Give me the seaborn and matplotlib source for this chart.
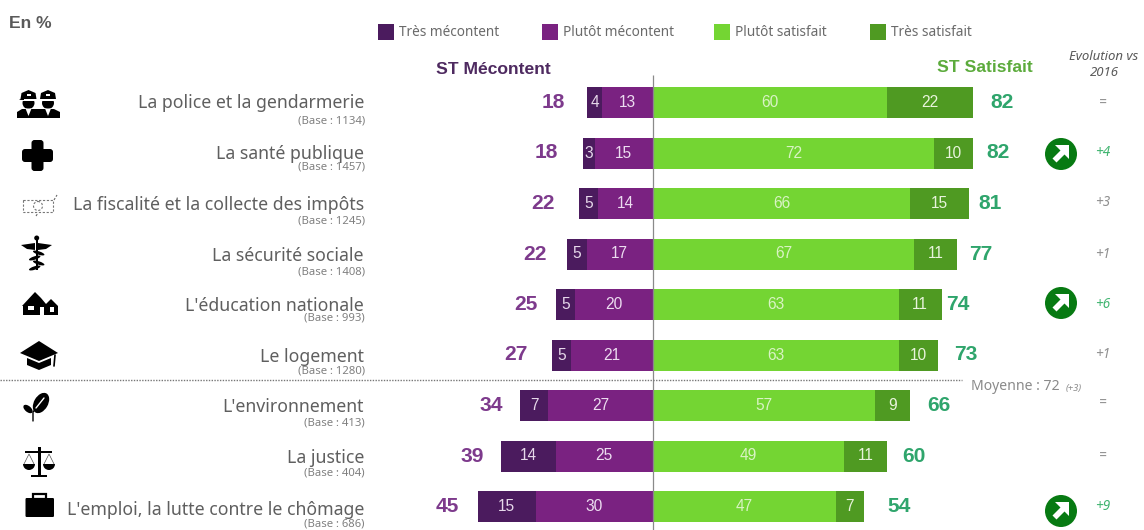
import numpy as np
import pandas as pd
import matplotlib
matplotlib.use("Agg")
import matplotlib.pyplot as plt
from matplotlib.patches import Circle, Rectangle, Polygon, FancyBboxPatch, Ellipse, Wedge
import seaborn as sns

# Survey results, in percent
domaines = ["La police et la gendarmerie", "La santé publique",
            "La fiscalité et la collecte des impôts", "La sécurité sociale",
            "L'éducation nationale", "Le logement", "L'environnement",
            "La justice", "L'emploi, la lutte contre le chômage"]
bases = [1134, 1457, 1245, 1408, 993, 1280, 413, 404, 686]
tres_mecontent = [4, 3, 5, 5, 5, 5, 7, 14, 15]
plutot_mecontent = [13, 15, 14, 17, 20, 21, 27, 25, 30]
plutot_satisfait = [60, 72, 66, 67, 63, 63, 57, 49, 47]
tres_satisfait = [22, 10, 15, 11, 11, 10, 9, 11, 7]
st_mecontent = [18, 18, 22, 22, 25, 27, 34, 39, 45]
st_satisfait = [82, 82, 81, 77, 74, 73, 66, 60, 54]
evolution = ["=", "+4", "+3", "+1", "+6", "+1", "=", "=", "+9"]
hausse_notable = [False, True, False, False, True, False, False, False, True]

# Colours
C_TM, C_PM, C_PS, C_TS = "#4b1b5e", "#7a2281", "#74d533", "#4f9a22"
C_TOTAL_M, C_TOTAL_S = "#7d3a8c", "#2fa56c"
GREY = "#6a6a6a"

# Layout, in pixels of the 1144x530 canvas
W, H = 1144, 530
ZERO_X, PX_PER_PCT = 653, 3.9
ROW0_Y, ROW_STEP, BAR_PX = 102.5, 50.5, 31
LABEL_Y = [103, 154, 205, 256, 306, 357, 407, 458, 510]
BASE_Y = [121, 167, 221, 272, 318, 371, 423, 473, 524]
EVOL_Y = [103, 153, 203, 255, 305, 354, 403, 456, 507]
GAP_L = [33, 36, 36, 32, 30, 36, 29, 29, 30]
GAP_R = [29, 25, 21, 24, 16, 28, 28, 27, 36]

sns.set_theme(style="white")
plt.rcParams["font.family"] = ["Noto Sans", "DejaVu Sans"]
NUM_FONT = ["Liberation Sans", "DejaVu Sans"]
PT = 72 / 100  # pixels to points at 100 dpi

df = pd.DataFrame({"domaine": domaines, "tm": tres_mecontent, "pm": plutot_mecontent,
                   "ps": plutot_satisfait, "ts": tres_satisfait})
df["neg_total"] = -(df.tm + df.pm)
df["neg_pm"] = -df.pm
df["pos_total"] = df.ps + df.ts

fig = plt.figure(figsize=(W / 100, H / 100), dpi=100, facecolor="white")
ax = fig.add_axes([0, 0, 1, 1])

# Stacked look: longest bars first, inner segment drawn on top
for col, colour in [("neg_total", C_TM), ("neg_pm", C_PM), ("pos_total", C_TS), ("ps", C_PS)]:
    sns.barplot(data=df, x=col, y="domaine", order=domaines, orient="y", color=colour,
                saturation=1, width=BAR_PX / ROW_STEP, linewidth=0, ax=ax)

ax.set_xlim(-ZERO_X / PX_PER_PCT, (W - ZERO_X) / PX_PER_PCT)
ax.set_ylim((H - ROW0_Y) / ROW_STEP, -ROW0_Y / ROW_STEP)
ax.axis("off")

# Values inside and beside the bars
for i in range(len(domaines)):
    tm, pm, ps, ts = tres_mecontent[i], plutot_mecontent[i], plutot_satisfait[i], tres_satisfait[i]
    seg = dict(ha="center", va="center", fontsize=15.5 * PT, family=NUM_FONT)
    ax.text(-pm - tm / 2, i, str(tm), color="#e6d8ea", **seg)
    ax.text(-pm / 2, i, str(pm), color="#ecdcf0", **seg)
    ax.text(ps / 2, i, str(ps), color="#d9f3c4", **seg)
    ax.text(ps + ts / 2, i, str(ts), color="#e8f4dc", **seg)
    tot = dict(ha="center", va="center", fontsize=21 * PT, fontweight="bold", family=NUM_FONT)
    ax.text(-(tm + pm) - GAP_L[i] / PX_PER_PCT, i, str(st_mecontent[i]), color=C_TOTAL_M, **tot)
    ax.text(ps + ts + GAP_R[i] / PX_PER_PCT, i, str(st_satisfait[i]), color=C_TOTAL_S, **tot)

# Central axis, from just under the headers to the bottom edge
ax.vlines(0, (75 - ROW0_Y) / ROW_STEP, (H - ROW0_Y) / ROW_STEP, color="#8a8a8a", lw=0.9, zorder=5)

# Overlay in pixel coordinates for captions, pictograms and the legend
ov = fig.add_axes([0, 0, 1, 1], facecolor="none")
ov.set_xlim(0, W)
ov.set_ylim(H, 0)
ov.axis("off")


def add(p):
    ov.add_patch(p)


def poly(pts, color="black", **kw):
    add(Polygon(pts, closed=True, facecolor=color, edgecolor="none", **kw))


def rect(x, y, w, h, color="black"):
    add(Rectangle((x, y), w, h, facecolor=color, edgecolor="none"))


def disc(x, y, r, color="black"):
    add(Circle((x, y), r, facecolor=color, edgecolor="none"))


def icon_police():
    poly([(17, 118), (17, 112), (22, 109), (54, 109), (60, 112), (60, 118)])
    for cx in (28.5, 48):
        disc(cx, 103, 6)
        poly([(cx - 8, 99), (cx + 8, 99), (cx + 7, 93), (cx, 90), (cx - 7, 93)])
        rect(cx - 6, 99, 12, 1.6, "white")
        rect(cx - 2, 93.5, 4, 2.5, "white")
        poly([(cx - 3, 108.5), (cx + 3, 108.5), (cx, 116)], "white")
    poly([(19, 100), (24, 97), (24, 100)])


def icon_cross():
    add(FancyBboxPatch((31.5, 140), 12, 31, boxstyle="round,pad=0,rounding_size=3", fc="black", ec="none"))
    add(FancyBboxPatch((22, 149), 31, 13, boxstyle="round,pad=0,rounding_size=3", fc="black", ec="none"))


def icon_banknote():
    add(Rectangle((23, 200), 30, 12, fill=False, ec="#777777", lw=0.8, ls=(0, (2, 1.5))))
    add(Circle((38, 206), 4.5, fill=False, ec="#777777", lw=0.8, ls=(0, (2, 1.5))))
    ov.plot([54, 57], [200, 195], color="#666666", lw=0.8, ls=(0, (2, 1.5)))
    ov.plot([36, 38], [216, 213], color="#666666", lw=0.8, ls=(0, (2, 1.5)))


def icon_caduceus():
    rect(35.5, 238, 2.4, 32)
    disc(36.7, 238, 2.5)
    poly([(21, 245), (35, 243), (35, 250), (27, 249)])
    poly([(52, 245), (38, 243), (38, 250), (46, 249)])
    for y, s in [(253, 1), (258, -1), (263, 1), (268, -1)]:
        add(Ellipse((36.7 + s * 2, y), 12, 3.4, angle=s * 18, fc="black", ec="none"))


def icon_house():
    poly([(22, 306), (35, 292), (41, 298), (46, 304), (51, 299), (58, 306), (58, 315), (23, 315), (23, 306)])
    rect(28, 306, 6, 4, "white")
    rect(40, 307, 4, 8, "white")
    rect(50, 307, 4, 5, "white")


def icon_cap():
    poly([(20, 353), (39, 341), (58, 353), (39, 361)])
    poly([(27, 358), (39, 363), (51, 358), (51, 365), (39, 370), (27, 365)])
    ov.plot([55, 54], [355, 366], color="black", lw=1.2)


def icon_leaf():
    add(Ellipse((41, 403), 14, 22, angle=30, fc="black", ec="none"))
    add(Ellipse((28, 409), 6, 11, angle=-50, fc="black", ec="none"))
    ov.plot([33, 33, 44], [421, 412, 399], color="black", lw=1)
    ov.plot([36, 44], [408, 398], color="white", lw=1)


def icon_scale():
    rect(38, 447, 2.6, 29)
    rect(31, 475, 15.5, 2.4)
    rect(25, 451, 27, 1.8)
    for cx in (29, 49):
        add(Wedge((cx, 464), 6, 0, 180, fc="black", ec="none"))
        ov.plot([cx - 5, cx, cx + 5], [464, 454, 464], color="#555555", lw=0.5)


def icon_briefcase():
    add(FancyBboxPatch((25.5, 498), 28.5, 19, boxstyle="round,pad=0,rounding_size=1.2", fc="black", ec="none"))
    add(Rectangle((33, 494), 13, 5, fill=False, ec="black", lw=1.6))


def icon_trend(cx, cy):
    disc(cx, cy, 16, "#077a12")
    poly([(cx - 6, cy - 9), (cx + 8, cy - 9), (cx + 8, cy + 5), (cx + 3.5, cy + 0.5),
          (cx - 4.5, cy + 8.5), (cx - 8.5, cy + 4.5), (cx - 0.5, cy - 3.5)], "white")


for draw in (icon_police, icon_cross, icon_banknote, icon_caduceus, icon_house,
             icon_cap, icon_leaf, icon_scale, icon_briefcase):
    draw()

# Category captions
for i, name in enumerate(domaines):
    ov.text(364, LABEL_Y[i], name, ha="right", va="center", fontsize=17.7 * PT, color="#5f5f5f")
    ov.text(365, BASE_Y[i], f"(Base : {bases[i]})", ha="right", va="center", fontsize=11.3 * PT, color="#808080")

# Year-on-year change
for i, ev in enumerate(evolution):
    colour = "#3fb46f" if hausse_notable[i] else "#8f8f8f"
    ov.text(1103, EVOL_Y[i], ev, ha="center", va="center", fontsize=13.5 * PT, style="italic", color=colour)
for cy in (154, 303, 511):
    icon_trend(1061, cy)

# Legend
legend_items = [(378, "Très mécontent", C_TM), (542, "Plutôt mécontent", C_PM),
                (714, "Plutôt satisfait", C_PS), (870, "Très satisfait", C_TS)]
for x, lab, colour in legend_items:
    rect(x, 24, 16, 16, colour)
    ov.text(x + 21, 33, lab, ha="left", va="center", fontsize=13.6 * PT, color=GREY)

# Headers and side notes (bold captions use the Arial-like face)
head = dict(ha="left", va="center", fontweight="bold", family=NUM_FONT)
ov.text(9, 23, "En %", fontsize=17.5 * PT, color="#5a5a5a", **head)
head["ha"] = "center"
ov.text(493, 70, "ST Mécontent", fontsize=17.5 * PT, color="#4e2a60", **head)
ov.text(985, 68, "ST Satisfait", fontsize=17.5 * PT, color="#5cab3c", **head)
ov.text(1104, 56, "Evolution vs", ha="center", va="center", fontsize=13.2 * PT, style="italic", color="#5a5a5a")
ov.text(1104, 72, "2016", ha="center", va="center", fontsize=13.2 * PT, style="italic", color="#5a5a5a")
ov.text(971, 387, "Moyenne : 72", ha="left", va="center", fontsize=14 * PT, color="#8a8a8a")
ov.text(1066, 388, "(+3)", ha="left", va="center", fontsize=9.5 * PT, style="italic", color="#8a8a8a")
ov.plot([0, 962], [380, 380], color="#777777", lw=1, ls=(0, (1, 1)))

fig.savefig("out.png", dpi=100, facecolor="white")
